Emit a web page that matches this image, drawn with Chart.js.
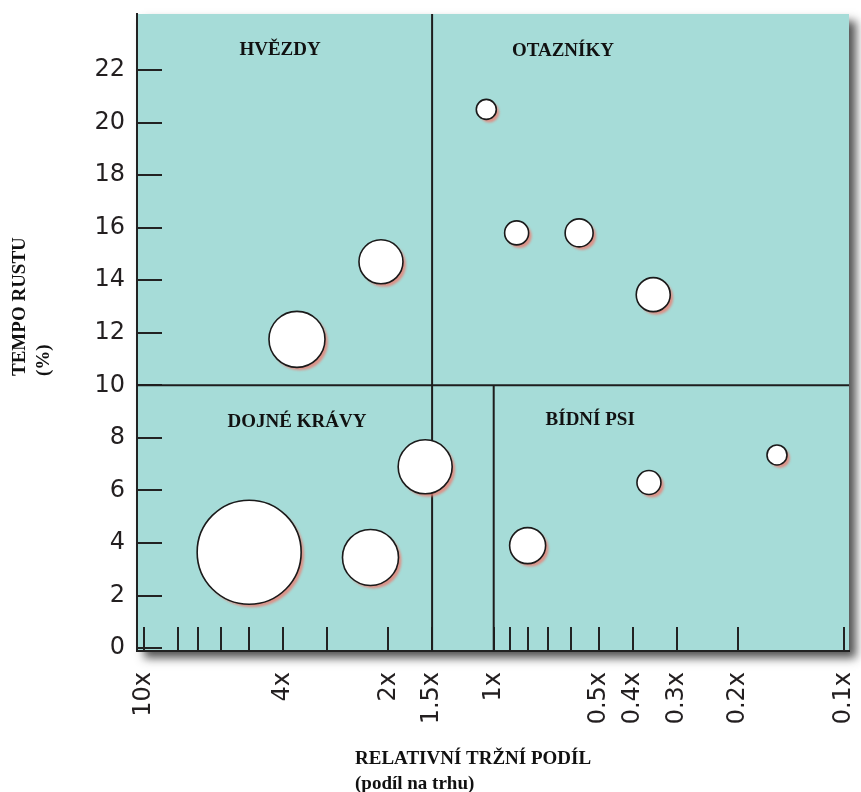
<!DOCTYPE html>
<html>
<head>
<meta charset="utf-8">
<script src="https://cdn.jsdelivr.net/npm/chart.js@4.4.0/dist/chart.umd.min.js"></script>
<style>
  body { margin: 0; background: #fff; }
</style>
</head>
<body>
<canvas id="bcg-chart" width="861" height="792"></canvas>
<script>
// relativni trzni podil (x), tempo rustu % (y), velikost bubliny (px)
const shares = [2.1, 3.65, 1.05, 0.86, 0.57, 0.35, 5.0, 2.25, 1.57, 0.8, 0.36, 0.155];
const growth = [14.7, 11.75, 20.5, 15.8, 15.8, 13.45, 3.65, 3.45, 6.9, 3.9, 6.3, 7.35];
const sizes = [22, 28, 10, 12, 14, 17, 52, 28, 27, 18, 12, 10];

const xTicks = [10, 8, 7, 6, 5, 4, 3, 2, 1.5, 1, 0.9, 0.8, 0.7, 0.6, 0.5, 0.4, 0.3, 0.2, 0.1];
const xLabels = [10, 4, 2, 1.5, 1, 0.5, 0.4, 0.3, 0.2, 0.1];
const yTicks = [0, 2, 4, 6, 8, 10, 12, 14, 16, 18, 20, 22];

const quadrants = ["HVĚZDY", "OTAZNÍKY", "DOJNÉ KRÁVY", "BÍDNÍ PSI"];
const quadrantAt = [[4.08, 22.75], [0.634, 22.7], [3.65, 8.6], [0.53, 8.68]];

const splitHigh = 1.5;
const splitLow = 1;
const splitGrowth = 10;

const points = shares.map((s, i) => ({ x: s, y: growth[i], r: sizes[i] }));

// plocha grafu + deleni na kvadranty
const matrixPlugin = {
  id: "matrix",
  beforeDraw(chart) {
    const { ctx, chartArea: a } = chart;
    ctx.save();
    ctx.shadowColor = "rgba(40,40,40,0.8)";
    ctx.shadowBlur = 9;
    ctx.shadowOffsetX = 7;
    ctx.shadowOffsetY = 7;
    ctx.fillStyle = "#a6dcd8";
    ctx.fillRect(a.left, a.top, a.right - a.left, a.bottom - a.top);
    ctx.restore();
  },
  beforeDatasetsDraw(chart) {
    const { ctx, chartArea: a } = chart;
    const x = chart.scales.x, y = chart.scales.y;
    const xh = x.getPixelForValue(splitHigh);
    const xl = x.getPixelForValue(splitLow);
    const ym = y.getPixelForValue(splitGrowth);
    ctx.save();
    ctx.strokeStyle = "#1e1e1e";
    ctx.lineWidth = 2;
    ctx.beginPath();
    ctx.moveTo(a.left, ym); ctx.lineTo(a.right, ym);
    ctx.moveTo(xh, a.top); ctx.lineTo(xh, a.bottom);
    ctx.moveTo(xl, ym); ctx.lineTo(xl, a.bottom);
    ctx.stroke();

    ctx.font = 'bold 19px "Liberation Serif"';
    ctx.fillStyle = "#111";
    ctx.textAlign = "center";
    ctx.textBaseline = "middle";
    quadrants.forEach((t, i) => {
      ctx.fillText(t, x.getPixelForValue(quadrantAt[i][0]), y.getPixelForValue(quadrantAt[i][1]));
    });
    ctx.restore();
  },
  // ruzovy stin pod bublinami
  beforeDatasetDraw(chart, args) {
    const c = chart.ctx;
    c.save();
    c.fillStyle = "rgba(232,128,116,0.8)";
    c.filter = "blur(1px)";
    args.meta.data.forEach((el) => {
      c.beginPath();
      c.arc(el.x + 3, el.y + 3, el.options.radius, 0, Math.PI * 2);
      c.fill();
    });
    c.restore();
  },
  afterDraw(chart) {
    const { ctx } = chart;
    ctx.save();
    ctx.fillStyle = "#111";
    ctx.font = 'bold 19px "Liberation Serif"';
    ctx.translate(20, 376);
    ctx.rotate(-Math.PI / 2);
    ctx.textAlign = "left";
    ctx.textBaseline = "middle";
    ctx.fillText("TEMPO RUSTU", 0, 0);
    ctx.fillText("(%)", 0, 24);
    ctx.restore();

    ctx.save();
    ctx.fillStyle = "#111";
    ctx.textAlign = "left";
    ctx.textBaseline = "middle";
    ctx.font = 'bold 19px "Liberation Serif"';
    ctx.fillText("RELATIVNÍ TRŽNÍ PODÍL", 355, 759);
    ctx.fillText("(podíl na trhu)", 355, 784);
    ctx.restore();
  }
};

const config = {
  type: "bubble",
  data: {
    datasets: [
      {
        data: points,
        backgroundColor: "#ffffff",
        borderColor: "#1a1a1a",
        borderWidth: 1.6,
      },
    ],
  },
  options: {
    responsive: false,
    animation: false,
    clip: false,
    layout: { autoPadding: false, padding: { top: 14, right: 12, left: 0, bottom: 0 } },
    plugins: {
      legend: { display: false },
      tooltip: { enabled: false },
    },
    scales: {
      x: {
        type: "logarithmic",
        reverse: true,
        min: 0.0965,
        max: 10.46,
        afterBuildTicks: (s) => { s.ticks = xTicks.map((v) => ({ value: v })); },
        afterFit: (s) => { s.height = 141; s.paddingLeft = 0; s.paddingRight = 0; },
        grid: { drawOnChartArea: false, tickLength: -24, tickColor: "#222", lineWidth: 2 },
        border: { display: true, color: "#222", width: 2 },
        ticks: {
          autoSkip: false,
          minRotation: 90,
          maxRotation: 90,
          padding: 45,
          color: "#231f20",
          font: { family: "DejaVu Sans", size: 24 },
          callback: (v) => (xLabels.includes(v) ? v + "x" : ""),
        },
      },
      y: {
        min: -0.11,
        max: 24.13,
        afterBuildTicks: (s) => { s.ticks = yTicks.map((v) => ({ value: v })); },
        afterFit: (s) => { s.width = 137; s.paddingTop = 0; s.paddingBottom = 0; },
        grid: { drawOnChartArea: false, tickLength: -25, tickColor: "#222", lineWidth: 2 },
        border: { display: true, color: "#222", width: 2 },
        ticks: {
          padding: 37,
          color: "#231f20",
          font: { family: "DejaVu Sans", size: 24 },
        },
      },
    },
  },
  plugins: [matrixPlugin],
};

let bcgChart = new Chart(document.getElementById("bcg-chart"), config);
</script>
</body>
</html>
